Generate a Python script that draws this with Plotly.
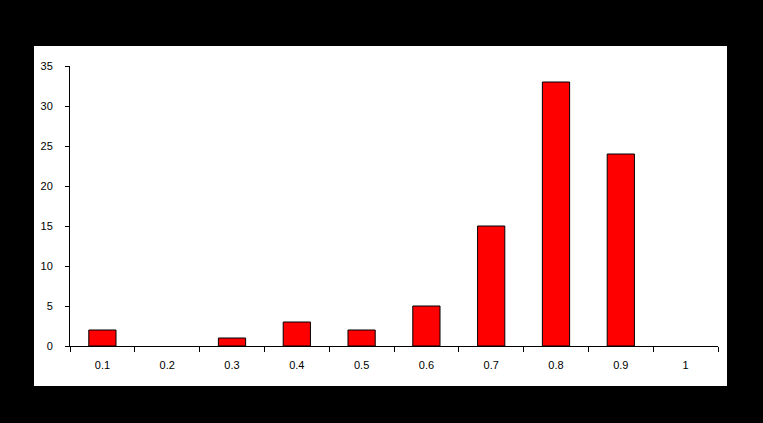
import plotly.graph_objects as go

categories = ["0.1", "0.2", "0.3", "0.4", "0.5", "0.6", "0.7", "0.8", "0.9", "1"]
values = [2, 0, 1, 3, 2, 5, 15, 33, 24, 0]
y_ticks = [0, 5, 10, 15, 20, 25, 30, 35]

W, H = 763, 423
L, R, T, B = 70, 718, 66, 346

fig = go.Figure(go.Bar(
    x=categories, y=values,
    marker=dict(color="#ff0000",
                line=dict(color="black", width=[1 if v else 0 for v in values])),
))

pw, ph = R - L, B - T
fig.add_shape(type="rect", xref="paper", yref="paper", layer="below",
              x0=(34 - L) / pw, x1=(727 - L) / pw,
              y0=(B - 386) / ph, y1=(B - 46) / ph,
              fillcolor="white", line=dict(width=0))

fig.update_layout(
    width=W, height=H,
    margin=dict(l=L, r=W - R, t=T, b=H - B, pad=0),
    paper_bgcolor="black", plot_bgcolor="white",
    bargap=0.58, showlegend=False,
    font=dict(family="Liberation Sans, Arial", size=11, color="black"),
    xaxis=dict(type="category", tickson="boundaries", ticks="outside", ticklen=5,
               tickcolor="black", showline=True, linecolor="black", linewidth=1,
               showgrid=False, tickfont=dict(size=11), ticklabelstandoff=9),
    yaxis=dict(range=[0, 35], tickvals=y_ticks, ticks="outside", ticklen=4,
               tickcolor="black", showline=True, linecolor="black", linewidth=1,
               showgrid=False, zeroline=False, tickfont=dict(size=11),
               ticklabelstandoff=10),
)

fig.write_html("out.html", config={"displayModeBar": False})
with open("out.html", encoding="utf-8") as f:
    html = f.read()
html = html.replace("<body>", '<body style="margin:0;padding:0;background:black;overflow:hidden">', 1)
with open("out.html", "w", encoding="utf-8") as f:
    f.write(html)
